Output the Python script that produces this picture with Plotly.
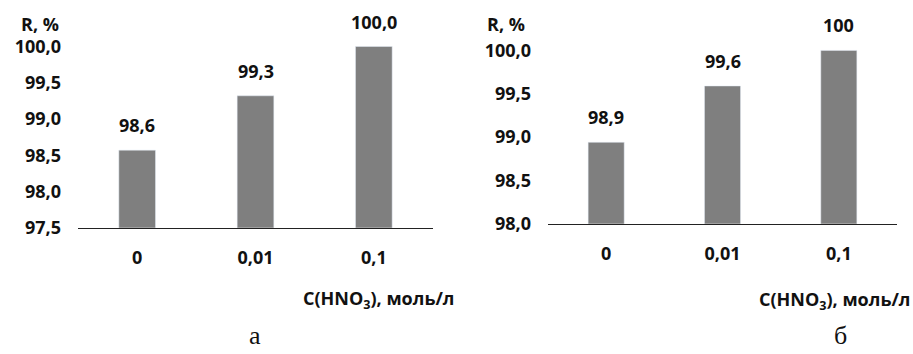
import plotly.graph_objects as go

W, H = 913, 354

categories = ["0", "0,01", "0,1"]
values_a = [98.57, 99.32, 100.0]
labels_a = ["98,6", "99,3", "100,0"]
values_b = [98.94, 99.59, 100.0]
labels_b = ["98,9", "99,6", "100"]

y_range_a = [97.5, 100.2]
y_range_b = [98.0, 100.2]
y_tick0_a = 97.5
y_tick0_b = 98.0

x_title = "C(HNO<sub>3</sub>), моль/л"
y_title = "R, %"
panel_a = "а"
panel_b = "б"

FONT = "Open Sans"
TXT = "#111111"
BAR = "#7f7f7f"

def px(x):
    return x / W

def py(y):
    return 1 - y / H

fig = go.Figure()
fig.add_trace(go.Bar(x=categories, y=values_a, marker_color=BAR, width=0.31,
                     xaxis="x", yaxis="y", showlegend=False, hoverinfo="skip"))
fig.add_trace(go.Bar(x=categories, y=values_b, marker_color=BAR, width=0.31,
                     xaxis="x2", yaxis="y2", showlegend=False, hoverinfo="skip"))

tickfont = dict(family=FONT, size=18, color=TXT, weight="bold")

common_x = dict(type="category", showline=True, linecolor="#222222", linewidth=1,
                showgrid=False, zeroline=False, ticks="", tickfont=tickfont,
                ticklabelstandoff=14, fixedrange=True)
common_y = dict(showline=False, showgrid=False, zeroline=False, ticks="",
                tickfont=tickfont, tickformat=".1f", dtick=0.5,
                tickmode="linear", fixedrange=True, ticklabelstandoff=16)

fig.update_layout(
    width=W, height=H, autosize=False,
    margin=dict(l=0, r=0, t=0, b=0),
    paper_bgcolor="white", plot_bgcolor="white",
    separators=", ",
    xaxis=dict(domain=[px(78), px(433)], anchor="y", **common_x),
    yaxis=dict(domain=[py(235), py(235 - 2.7 * 74.8)], anchor="x",
               range=y_range_a, tick0=y_tick0_a, **common_y),
    xaxis2=dict(domain=[px(548), px(897)], anchor="y2", **common_x),
    yaxis2=dict(domain=[py(231), py(231 - 2.2 * 89.5)], anchor="x2",
                range=y_range_b, tick0=y_tick0_b, **common_y),
)

ann = []
for c, v, t in zip(categories, values_a, labels_a):
    ann.append(dict(x=c, y=v, xref="x", yref="y", text=t, showarrow=False,
                    yanchor="bottom", yshift=11, font=tickfont))
for c, v, t in zip(categories, values_b, labels_b):
    ann.append(dict(x=c, y=v, xref="x2", yref="y2", text=t, showarrow=False,
                    yanchor="bottom", yshift=11, font=tickfont))

# axis titles
ann.append(dict(x=px(61), y=py(25), xref="paper", yref="paper", text=y_title,
                showarrow=False, xanchor="right", yanchor="middle", font=tickfont))
ann.append(dict(x=px(527), y=py(25), xref="paper", yref="paper", text=y_title,
                showarrow=False, xanchor="right", yanchor="middle", font=tickfont))
ann.append(dict(x=px(302), y=py(309), xref="paper", yref="paper", text=x_title,
                showarrow=False, xanchor="left", yanchor="middle", font=tickfont,
                borderpad=0))
ann.append(dict(x=px(911), y=py(310), xref="paper", yref="paper", text=x_title,
                showarrow=False, xanchor="right", yanchor="middle", font=tickfont,
                borderpad=0))
serif = dict(family="Liberation Serif", size=26, color=TXT)
ann.append(dict(x=px(255), y=py(346), xref="paper", yref="paper", text=panel_a,
                showarrow=False, xanchor="center", yanchor="middle", font=serif,
                borderpad=0))
ann.append(dict(x=px(840), y=py(346), xref="paper", yref="paper", text=panel_b,
                showarrow=False, xanchor="center", yanchor="middle", font=serif,
                borderpad=0))

fig.update_layout(annotations=ann)

css_js = (
    "var s=document.createElement('style');"
    "s.textContent='html,body{margin:0!important;padding:0!important;overflow:hidden!important;"
    "width:913px;height:354px;}"
    ".plotly-graph-div{display:block;}"
    ".svg-container{display:block!important;}';"
    "document.head.appendChild(s);"
)

fig.write_html(
    "out.html",
    config={"displayModeBar": False, "responsive": False},
    post_script=css_js,
)
